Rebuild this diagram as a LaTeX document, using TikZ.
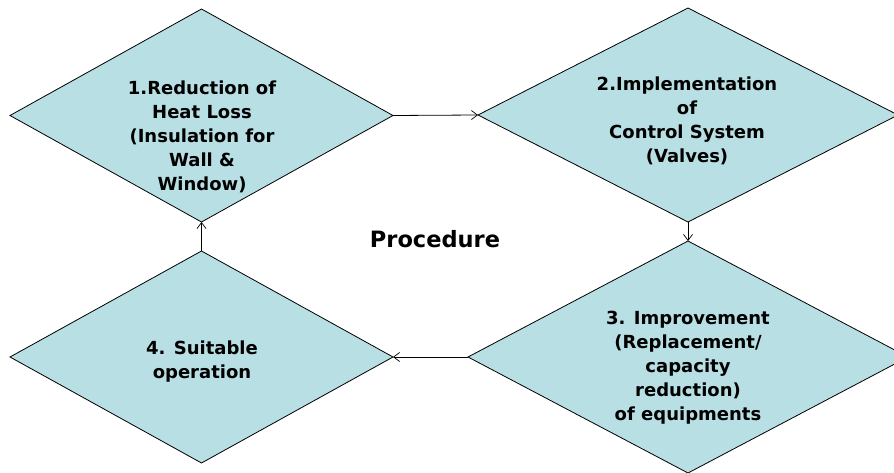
\documentclass[tikz,border=0pt]{standalone}
\usepackage{fontspec}
\setmainfont{DejaVu Sans}
\usetikzlibrary{shapes.geometric,arrows.meta}
\definecolor{boxfill}{RGB}{184,223,227}
\tikzset{
  dia/.style={diamond, draw=black, line width=0.8pt, fill=boxfill, inner sep=0pt, outer sep=0pt},
  lbl/.style={align=center, inner sep=0pt, font=\fontsize{18}{24}\selectfont\bfseries},
  conn/.style={draw=black, line width=0.8pt, -{Straight Barb[length=6pt,width=9pt,line width=0.7pt]}}
}
\begin{document}
\begin{tikzpicture}[x=1pt,y=1pt]
\path[use as bounding box] (0,0) rectangle (894,-473);
\begin{scope}
\clip (0,0) rectangle (894,-473);
\node[dia, minimum width=383pt, minimum height=213pt] (d1) at (201.5,-115.5) {};
\node[dia, minimum width=420pt, minimum height=214pt] (d2) at (688,-115) {};
\node[dia, minimum width=440pt, minimum height=232pt] (d3) at (688,-357) {};
\node[dia, minimum width=383pt, minimum height=212pt] (d4) at (201.5,-357) {};
\end{scope}
\node[lbl] (t1) at (202,-137) {1.Reduction of\\Heat Loss\\(Insulation for\\Wall \&\\Window)};
\node[lbl] (t2) at (687,-120.5) {2.Implementation\\of\\Control System\\(Valves)};
\node[lbl] (t3) at (688,-368) {3. Improvement\\(Replacement/\\capacity\\reduction)\\of equipments};
\node[lbl] (t4) at (202,-361.5) {4. Suitable\\operation};
\node[inner sep=0pt, font=\fontsize{22.5}{27}\selectfont\bfseries] (proc) at (435,-239) {Procedure};
\draw[conn] (d1.east) -- (d2.west);
\draw[conn] (d2.south) -- (d3.north);
\draw[conn] (d3.west) -- (d4.east);
\draw[conn] (d4.north) -- (d1.south);
\end{tikzpicture}
\end{document}
